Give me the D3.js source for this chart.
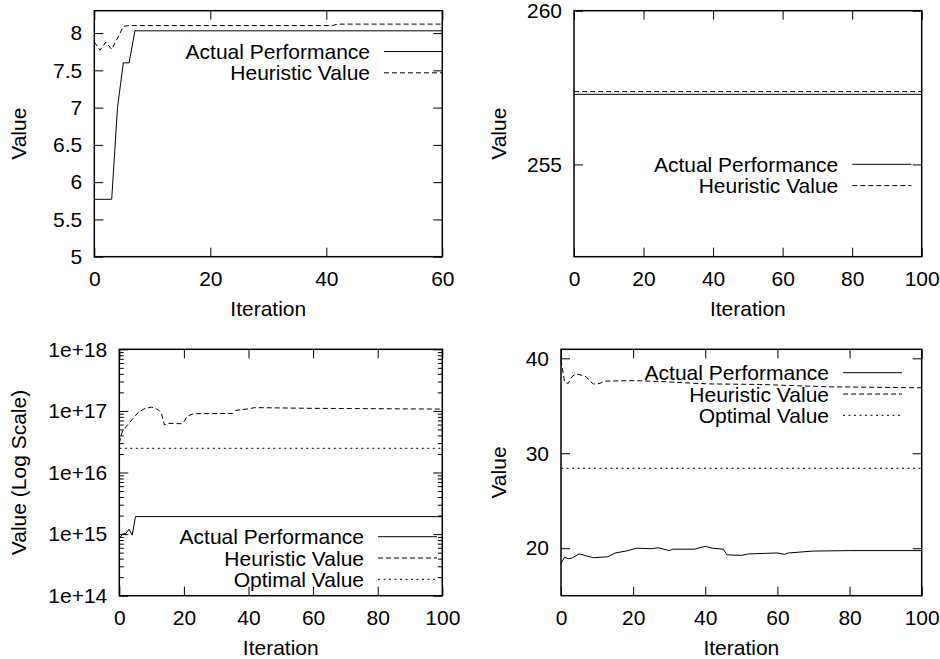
<!DOCTYPE html>
<html>
<head>
<meta charset="utf-8">
<script src="https://cdn.jsdelivr.net/npm/d3@7/dist/d3.min.js"></script>
<style>
  body { margin: 0; background: #fff; }
  text { font-family: "Liberation Sans", Arial, Helvetica, sans-serif; font-size: 21px; fill: #000; }
</style>
</head>
<body>
<svg id="chart" width="940" height="659"></svg>
<script>
// ---- data -------------------------------------------------------------
const seriesNames = ["Actual Performance", "Heuristic Value", "Optimal Value"];

const iterTicks60 = [0, 20, 40, 60];
const iterTicks100 = [0, 20, 40, 60, 80, 100];

// run A (iterations 0-60)
const aTicks = [5, 5.5, 6, 6.5, 7, 7.5, 8];
const aActual = [[0, 5.77], [1, 5.77], [2, 5.77], [3, 5.77], [4, 7.0], [5, 7.6], [6, 7.6], [7, 8.03], [60, 8.03]];
const aHeuristic = [[0, 7.88], [1, 7.77], [2, 7.88], [3, 7.78], [4, 7.93], [5, 8.09], [6, 8.1], [41, 8.1], [42, 8.12], [60, 8.12]];

// run B (iterations 0-100)
const bTicks = [255, 260];
const bActual = [[0, 257.28], [100, 257.28]];
const bHeuristic = [[0, 257.37], [100, 257.37]];

// run C (log scale)
const cTicks = [1e14, 1e15, 1e16, 1e17, 1e18];
const cActual = [[0, 8.5e14], [1, 1.0e15], [2, 1.02e15], [3, 1.2e15], [4, 9.6e14], [5, 1.92e15], [100, 1.92e15]];
const cHeuristic = [[0, 3.0e16], [1, 4.8e16], [2, 5.5e16], [3, 6.3e16], [4, 7.3e16], [5, 8.4e16], [6, 9.6e16],
  [8, 1.1e17], [10, 1.15e17], [12, 1.05e17], [13, 9.2e16], [14, 5.9e16], [15, 6.3e16], [19, 6.2e16],
  [20, 6.6e16], [21, 8.2e16], [23, 9.0e16], [35, 9.1e16], [36, 1.02e17], [40, 1.08e17], [42, 1.13e17],
  [60, 1.1e17], [100, 1.07e17]];
const cOptimal = [[0, 2.47e16], [100, 2.47e16]];

// run D (iterations 0-100)
const dTicks = [20, 30, 40];
const dActual = [[0, 18.4], [1, 19.05], [2, 18.9], [3, 18.95], [5, 19.4], [7, 19.2], [9, 19.0], [13, 19.1],
  [15, 19.5], [18, 19.7], [21, 20.0], [25, 19.95], [27, 20.05], [30, 19.75], [31, 19.9], [37, 19.9],
  [40, 20.2], [42, 20.0], [45, 19.9], [46, 19.3], [50, 19.25], [52, 19.4], [60, 19.5], [62, 19.35],
  [63, 19.5], [70, 19.7], [80, 19.75], [100, 19.75]];
const dHeuristic = [[0, 39.8], [1, 37.5], [2, 37.35], [3, 38.05], [4, 38.35], [5, 38.3], [7, 38.05], [8, 37.6],
  [9, 37.3], [10, 37.3], [11, 37.4], [12, 37.6], [20, 37.65], [28, 37.55], [38, 37.35], [42, 37.3],
  [55, 37.25], [74, 37.0], [100, 36.9]];
const dOptimal = [[0, 28.42], [100, 28.42]];

// ---- drawing ----------------------------------------------------------
const svg = d3.select("#chart");
const dashes = { "Actual Performance": null, "Heuristic Value": "5,3", "Optimal Value": "2,3.5" };
const TICK = 9, MINOR = 4.5;

function panel(p) {
  const g = svg.append("g");
  const x = d3.scaleLinear().domain(p.xDomain).range([p.l, p.r]);
  const y = p.y.range([p.b, p.t]);

  // ticks on all four sides, pointing inward
  const left = d3.axisLeft(y).tickValues(p.yTicks).tickFormat(p.yFormat).tickSizeInner(-TICK).tickSizeOuter(0).tickPadding(12);
  const right = d3.axisRight(y).tickValues(p.yTicks).tickFormat("").tickSizeInner(-TICK).tickSizeOuter(0);
  const bottom = d3.axisBottom(x).tickValues(p.xTicks).tickFormat(d3.format("d")).tickSizeInner(-TICK).tickSizeOuter(0).tickPadding(14);
  const top = d3.axisTop(x).tickValues(p.xTicks).tickFormat("").tickSizeInner(-TICK).tickSizeOuter(0);

  const axes = [
    [left, `translate(${p.l},0)`], [right, `translate(${p.r},0)`],
    [bottom, `translate(0,${p.b})`], [top, `translate(0,${p.t})`]
  ];
  axes.forEach(([ax, tr]) => {
    const a = g.append("g").attr("transform", tr).call(ax);
    a.select(".domain").remove();
    a.selectAll("line").attr("stroke", "#000").attr("stroke-width", 1);
    a.selectAll("text").attr("font-size", null).attr("font-family", null).attr("fill", "#000");
  });

  if (p.yMinor) {
    [[d3.axisLeft, p.l], [d3.axisRight, p.r]].forEach(([mk, px]) => {
      const a = g.append("g").attr("transform", `translate(${px},0)`)
        .call(mk(y).tickValues(p.yMinor).tickFormat("").tickSizeInner(-MINOR).tickSizeOuter(0));
      a.select(".domain").remove();
      a.selectAll("line").attr("stroke", "#000").attr("stroke-width", 1);
    });
  }

  // series
  const line = d3.line().x(d => x(d[0])).y(d => y(d[1]));
  p.series.forEach(s => {
    g.append("path").datum(s.data).attr("d", line)
      .attr("fill", "none").attr("stroke", "#000").attr("stroke-width", 1)
      .attr("stroke-dasharray", dashes[s.name]);
  });

  // key
  p.series.forEach((s, i) => {
    const ky = p.keyY + i * 21.3;
    g.append("text").attr("x", p.keyX).attr("y", ky).attr("dy", "0.36em")
      .attr("text-anchor", "end").text(s.name);
    g.append("line").attr("x1", p.keyX + 14).attr("x2", p.keyX + 73).attr("y1", ky).attr("y2", ky)
      .attr("stroke", "#000").attr("stroke-width", 1).attr("stroke-dasharray", dashes[s.name]);
  });

  // frame
  g.append("rect").attr("x", p.l).attr("y", p.t).attr("width", p.r - p.l).attr("height", p.b - p.t)
    .attr("fill", "none").attr("stroke", "#000").attr("stroke-width", 1.5);

  // axis titles
  g.append("text").attr("x", (p.l + p.r) / 2).attr("y", p.b + 52).attr("dy", "0.36em")
    .attr("text-anchor", "middle").text("Iteration");
  g.append("text").attr("transform", `translate(${p.yLabelX},${(p.t + p.b) / 2}) rotate(-90)`)
    .attr("dy", "0.36em").attr("text-anchor", "middle").text(p.yLabel);
}

const series = (names, datas) => names.map((n, i) => ({ name: n, data: datas[i] }));

panel({
  l: 94.3, r: 442.3, t: 10.7, b: 256.7,
  xDomain: [0, 60], xTicks: iterTicks60,
  y: d3.scaleLinear().domain([5, 8.3]), yTicks: aTicks, yFormat: d3.format("~g"),
  yLabel: "Value", yLabelX: 18,
  series: series(seriesNames.slice(0, 2), [aActual, aHeuristic]),
  keyX: 370, keyY: 51.5
});

panel({
  l: 574, r: 921.7, t: 10.7, b: 256.7,
  xDomain: [0, 100], xTicks: iterTicks100,
  y: d3.scaleLinear().domain([252, 260]), yTicks: bTicks, yFormat: d3.format("d"),
  yLabel: "Value", yLabelX: 498,
  series: series(seriesNames.slice(0, 2), [bActual, bHeuristic]),
  keyX: 838.3, keyY: 164.3
});

const cMinor = [];
cTicks.slice(0, -1).forEach(dec => { for (let k = 2; k <= 9; k++) cMinor.push(dec * k); });

panel({
  l: 119.3, r: 442.3, t: 349.3, b: 595.7,
  xDomain: [0, 100], xTicks: iterTicks100,
  y: d3.scaleLog().domain([1e14, 1e18]), yTicks: cTicks, yMinor: cMinor,
  yFormat: d => "1e+" + Math.round(Math.log10(d)),
  yLabel: "Value (Log Scale)", yLabelX: 18,
  series: series(seriesNames, [cActual, cHeuristic, cOptimal]),
  keyX: 364, keyY: 536.7
});

panel({
  l: 561, r: 921.7, t: 349.3, b: 595.7,
  xDomain: [0, 100], xTicks: iterTicks100,
  y: d3.scaleLinear().domain([15, 40.95]), yTicks: dTicks, yFormat: d3.format("d"),
  yLabel: "Value", yLabelX: 498,
  series: series(seriesNames, [dActual, dHeuristic, dOptimal]),
  keyX: 829, keyY: 372.7
});
</script>
</body>
</html>
